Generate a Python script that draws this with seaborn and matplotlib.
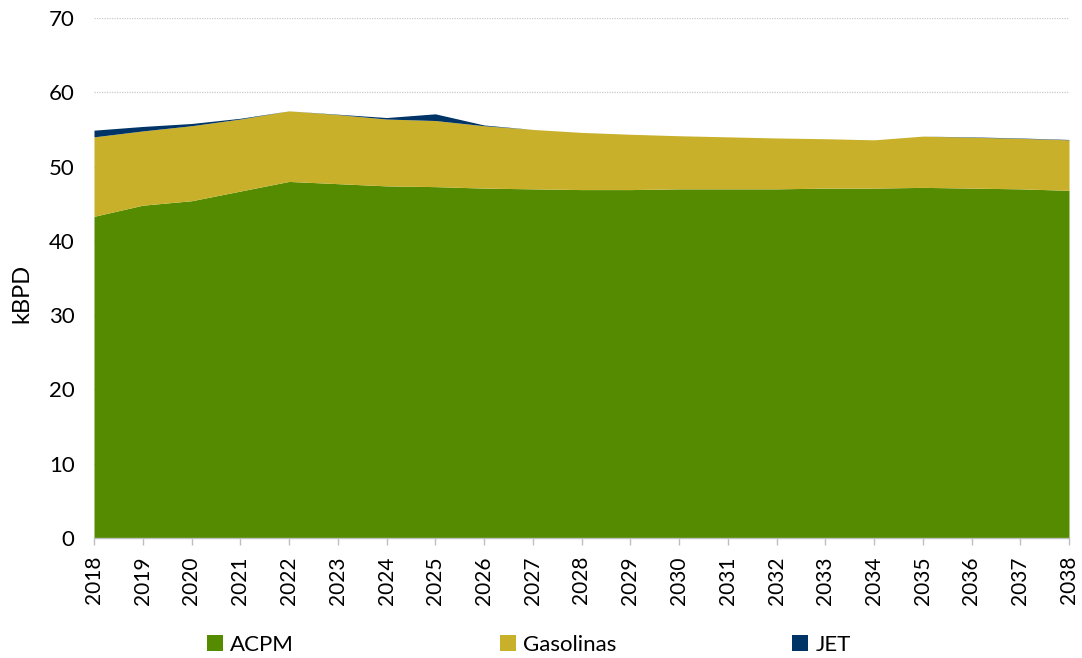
import matplotlib
matplotlib.use("Agg")
import matplotlib.pyplot as plt
import seaborn as sns
import pandas as pd
from matplotlib.patches import Patch

# Demand projection by product, kBPD
years = list(range(2018, 2039))
acpm = [43.3, 44.8, 45.4, 46.7, 48.0, 47.7, 47.4, 47.3, 47.1, 47.0, 46.9,
        46.9, 47.0, 47.0, 47.0, 47.1, 47.1, 47.2, 47.1, 47.0, 46.8]
gasolinas = [10.7, 10.0, 10.1, 9.7, 9.5, 9.3, 9.0, 8.9, 8.4, 8.0, 7.7,
             7.45, 7.15, 7.0, 6.85, 6.65, 6.5, 6.9, 6.85, 6.8, 6.8]
jet = [0.9, 0.6, 0.3, 0.1, 0.0, 0.05, 0.2, 0.9, 0.1, 0.0, 0.0,
       0.0, 0.0, 0.0, 0.0, 0.0, 0.0, 0.0, 0.05, 0.05, 0.05]
series = ["ACPM", "Gasolinas", "JET"]
colors = ["#548B00", "#C8B02A", "#003366"]
y_ticks = [0, 10, 20, 30, 40, 50, 60, 70]

df = pd.DataFrame({"Año": years, "ACPM": acpm, "Gasolinas": gasolinas, "JET": jet})

sns.set_theme(style="white")
plt.rcParams["font.family"] = ["Lato", "DejaVu Sans"]
plt.rcParams["text.color"] = "black"
plt.rcParams["axes.labelcolor"] = "black"
plt.rcParams["xtick.labelcolor"] = "black"
plt.rcParams["ytick.labelcolor"] = "black"

fig = plt.figure(figsize=(10.82, 6.58), dpi=100)
ax = fig.add_axes([94 / 1082, 1 - 538 / 658, (1069 - 94) / 1082, (538 - 18) / 658])

# horizontal dotted grid behind the areas
for t in y_ticks[1:]:
    ax.axhline(t, color="#C8C8C8", lw=0.9, ls=(0, (1, 1)), zorder=0)

ax.stackplot(df["Año"], df["ACPM"], df["Gasolinas"], df["JET"],
             colors=colors, labels=series, zorder=2, linewidth=0)

ax.set_xlim(2018, 2038)
ax.set_ylim(0, 70)
ax.set_xticks(years)
ax.set_xticklabels([str(y) for y in years], rotation=90, fontsize=15)
ax.set_yticks(y_ticks)
ax.set_yticklabels([str(t) for t in y_ticks], fontsize=16)
ax.tick_params(axis="y", length=0, pad=14)
ax.tick_params(axis="x", length=5, width=1, color="#BFBFBF", pad=8, direction="out", bottom=True)
ax.set_ylabel("kBPD", fontsize=17)
ax.yaxis.set_label_coords(-62 / 975, 0.47)

for side in ["left", "right", "top"]:
    ax.spines[side].set_visible(False)
ax.spines["bottom"].set_color("#BFBFBF")
ax.spines["bottom"].set_linewidth(1)
ax.spines["bottom"].set_zorder(3)

# one legend entry per product along the bottom
legend_x = [207, 500, 792]
for name, col, lx in zip(series, colors, legend_x):
    leg = fig.legend(handles=[Patch(facecolor=col, edgecolor="none")], labels=[name],
                     loc="center left", bbox_to_anchor=(lx / 1082, 1 - 645 / 658),
                     frameon=False, fontsize=16, handlelength=0.7, handleheight=0.7,
                     handletextpad=0.35, borderpad=0, borderaxespad=0)

fig.savefig("out.png", dpi=100)
